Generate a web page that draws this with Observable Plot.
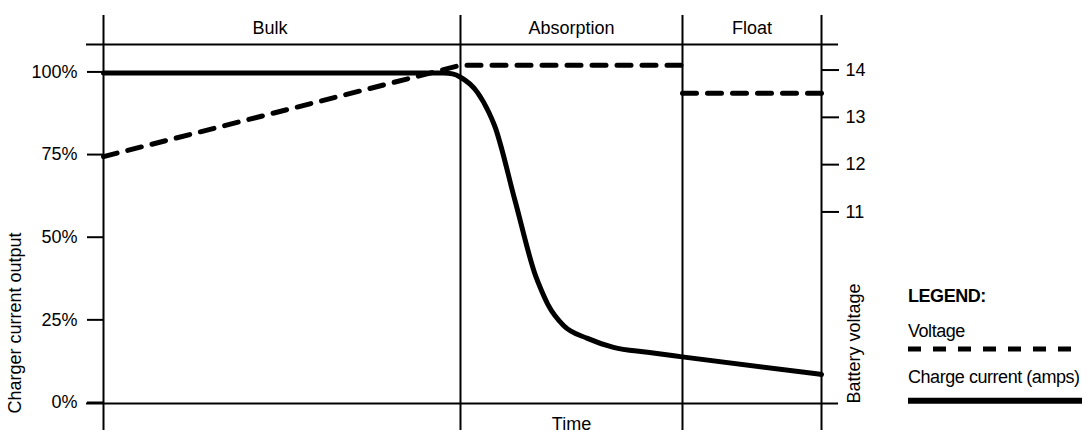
<!DOCTYPE html>
<html>
<head>
<meta charset="utf-8">
<script src="https://cdn.jsdelivr.net/npm/d3@7"></script>
<script src="https://cdn.jsdelivr.net/npm/@observablehq/plot@0.6"></script>
<style>
  body { margin: 0; background: #fff; }
  #wrap { position: relative; width: 1082px; height: 437px; font-family: "Liberation Sans", Arial, sans-serif; }
  #legend { position: absolute; left: 0; top: 0; pointer-events: none; }
</style>
</head>
<body>
<div id="wrap"></div>
<script>
// ---- data ----
const phaseNames = ["Bulk", "Absorption", "Float"];
const phaseBounds = [0, 49.72, 80.64, 100];

const currentTime = [0, 47.35, 48.61, 49.72, 52.05, 53.66, 54.46, 57.31, 60.17, 61.0, 61.98, 64.07, 67.41, 71.03, 75.77, 80.6, 100];
const currentPct  = [100, 100, 99.7, 98.7, 94.2, 88.1, 84.1, 61.4, 38.7, 34.2, 29.6, 23.6, 19.7, 17.0, 15.5, 14.1, 8.8];

const voltageTime  = [0, 49.72, 80.64, 80.64, 100];
const voltageValue = [12.17, 14.1, 14.1, 13.51, 13.51];
const voltageStage = ["charge", "charge", "charge", "float", "float"];

const pctTicks  = [0, 25, 50, 75, 100];
const voltTicks = [11, 12, 13, 14];
const voltAxisDomain = [6.95, 14.54];   // volts at bottom / top of the frame
const pctDomain = [0, 108.6];

const yTitle = "Charger current output";
const y2Title = "Battery voltage";
const xTitle = "Time";
const legendTitle = "LEGEND:";
const legendVoltage = "Voltage";
const legendCurrent = "Charge current (amps)";

// ---- derived tables ----
const current = currentTime.map((t, i) => ({t, p: currentPct[i]}));
const voltage = voltageTime.map((t, i) => ({t, v: voltageValue[i], stage: voltageStage[i]}));
const voltScale = d3.scaleLinear(voltAxisDomain, pctDomain);
const phases = phaseNames.map((name, i) => ({name, mid: (phaseBounds[i] + phaseBounds[i + 1]) / 2}));

const FONT = "'Liberation Sans', Arial, sans-serif";

const chart = Plot.plot({
  width: 1082,
  height: 437,
  marginLeft: 103,
  marginRight: 261,
  marginTop: 44,
  marginBottom: 34,
  style: {fontFamily: FONT, fontSize: "18px", color: "black", background: "white", overflow: "visible"},
  x: {domain: [0, 100], axis: null},
  y: {domain: pctDomain},
  marks: [
    Plot.ruleX(phaseBounds, {strokeWidth: 2, insetTop: -29, insetBottom: -27}),
    Plot.ruleY([pctDomain[0], pctDomain[1]], {strokeWidth: 2, insetLeft: -17, insetRight: -17}),
    Plot.axisY(pctTicks, {anchor: "left", tickSize: 16, tickPadding: 10, strokeWidth: 2, tickFormat: d => d + "%", label: null, dy: -1}),
    Plot.axisY(voltTicks.map(v => voltScale(v)), {anchor: "right", tickSize: 17, tickPadding: 7, strokeWidth: 2,
      tickFormat: d => String(Math.round(voltScale.invert(d))), label: null}),
    Plot.line(voltage, {x: "t", y: d => voltScale(d.v), z: "stage", strokeWidth: 5, strokeDasharray: "14,11"}),
    Plot.line(current, {x: "t", y: "p", curve: "monotone-x", strokeWidth: 5}),
    Plot.text(phases.slice(0, 1), {x: "mid", text: "name", frameAnchor: "top", dy: -23.6, dx: -12}),
    Plot.text(phases.slice(1), {x: "mid", text: "name", frameAnchor: "top", dy: -23.6}),
    Plot.text([xTitle], {x: phases[1].mid, text: d => d, frameAnchor: "bottom", dy: 26.4}),
    Plot.text([yTitle], {text: d => d, frameAnchor: "bottom-left", rotate: -90, textAnchor: "start", dx: -83, dy: 10}),
    Plot.text([y2Title], {text: d => d, frameAnchor: "bottom-right", rotate: -90, textAnchor: "start", dx: 38, dy: 0})
  ]
});

const wrap = document.getElementById("wrap");
wrap.appendChild(chart);

// ---- legend (overlay on the right margin) ----
const ns = "http://www.w3.org/2000/svg";
const leg = document.createElementNS(ns, "svg");
leg.setAttribute("id", "legend");
leg.setAttribute("width", 1082);
leg.setAttribute("height", 437);
leg.style.fontFamily = FONT;
leg.style.fontSize = "18px";
leg.style.letterSpacing = "-0.45px";
function addText(str, x, y, bold) {
  const t = document.createElementNS(ns, "text");
  t.setAttribute("x", x); t.setAttribute("y", y);
  if (bold) t.setAttribute("font-weight", "bold");
  t.textContent = str;
  leg.appendChild(t);
}
function addLine(x1, x2, y, w, dash) {
  const l = document.createElementNS(ns, "line");
  l.setAttribute("x1", x1); l.setAttribute("x2", x2);
  l.setAttribute("y1", y); l.setAttribute("y2", y);
  l.setAttribute("stroke", "black"); l.setAttribute("stroke-width", w);
  if (dash) l.setAttribute("stroke-dasharray", dash);
  leg.appendChild(l);
}
addText(legendTitle, 908, 301.7, true);
addText(legendVoltage, 908, 336.7, false);
addLine(908, 1082, 349, 5, "13,12");
addText(legendCurrent, 908, 383.3, false);
addLine(908, 1082, 400.7, 6, null);
wrap.appendChild(leg);
</script>
</body>
</html>
